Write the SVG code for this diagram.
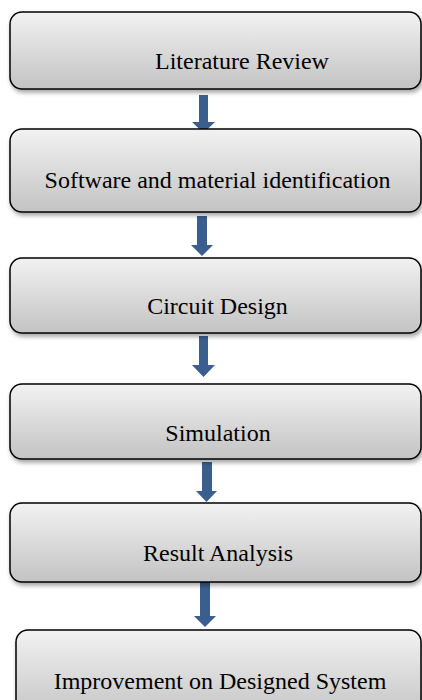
<svg xmlns="http://www.w3.org/2000/svg" width="422" height="700" viewBox="0 0 422 700">
<defs>
<linearGradient id="g" x1="0" y1="0" x2="0" y2="1">
<stop offset="0" stop-color="#f2f2f2"/>
<stop offset="1" stop-color="#c3c3c3"/>
</linearGradient>
<filter id="sh" x="-5%" y="-10%" width="115%" height="130%">
<feDropShadow dx="1.5" dy="3" stdDeviation="2" flood-color="#000" flood-opacity="0.35"/>
</filter>
</defs>
<style>
.box{fill:url(#g);stroke:#000;stroke-width:1.5;filter:url(#sh)}
.lbl{font-family:"Liberation Serif","Times New Roman",serif;font-size:24px;fill:#000;text-anchor:middle}
.arr{fill:#3a5e8e}
</style>
<rect width="422" height="700" fill="#fff"/>
<g id="connectors">
<polygon class="arr" points="199,95 208,95 208,122 215,122 203.5,133 192,122 199,122"/>
<polygon class="arr" points="197,216 207,216 207,245 213,245 202,256 191,245 197,245"/>
<polygon class="arr" points="199,336 208,336 208,365 215,365 203.5,377 192,365 199,365"/>
<polygon class="arr" points="202,462 212,462 212,491 217,491 206.5,502 196,491 202,491"/>
<polygon class="arr" points="200,580 210,580 210,616 216,616 205,627 194,616 200,616"/>
</g>
<g id="n1"><rect class="box" x="10" y="12" width="411" height="77" rx="12"/><text class="lbl" x="242" y="69">Literature Review</text></g>
<g id="n2"><rect class="box" x="10" y="129" width="411" height="83" rx="12"/><text class="lbl" x="217.5" y="188">Software and material identification</text></g>
<g id="n3"><rect class="box" x="10" y="258" width="411" height="75" rx="12"/><text class="lbl" x="217.5" y="314">Circuit Design</text></g>
<g id="n4"><rect class="box" x="10" y="384" width="411" height="75" rx="12"/><text class="lbl" x="218" y="441">Simulation</text></g>
<g id="n5"><rect class="box" x="10" y="503" width="411" height="79" rx="12"/><text class="lbl" x="218" y="561">Result Analysis</text></g>
<g id="n6"><rect class="box" x="16" y="630" width="405" height="90" rx="12"/><text class="lbl" x="220" y="689">Improvement on Designed System</text></g>
</svg>
